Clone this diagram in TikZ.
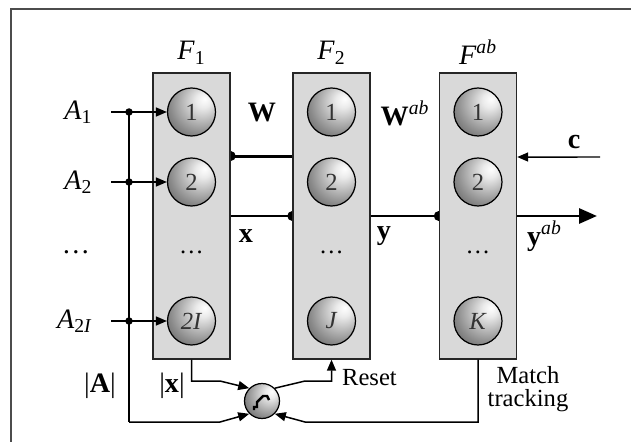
\documentclass[tikz,border=0pt]{standalone}
\usepackage{fontspec}
\setmainfont{Liberation Serif}
\usetikzlibrary{arrows.meta, positioning, calc}
\pgfdeclarelayer{background}
\pgfsetlayers{background,main}
\pgfdeclareradialshading{nodeball}{\pgfpoint{14bp}{14bp}}{%
  color(0bp)=(white); color(8bp)=(black!8); color(30bp)=(black!45); color(55bp)=(black!82); color(72bp)=(black!92)}
\tikzset{
  layer/.style={draw=black!85, fill=black!15, line width=0.8pt, minimum width=1.54cm, minimum height=5.72cm, inner sep=0pt},
  unit/.style={draw=black, circle, line width=0.7pt, minimum size=0.96cm, inner sep=0pt, shading=nodeball, font=\fontsize{14}{14}\selectfont, text=black!80},
  cmpunit/.style={unit, minimum size=0.7cm},
  lbl/.style={font=\fontsize{16}{18}\selectfont, inner sep=1pt},
  small/.style={font=\fontsize{14}{15}\selectfont, align=center, inner sep=1pt},
  wire/.style={draw=black, line width=0.85pt},
  bus/.style={draw=black, line width=1.7pt},
  tip/.style={-{Triangle[length=0.22cm, width=0.18cm]}},
  bigtip/.style={-{Triangle[length=0.36cm, width=0.3cm]}},
  jdot/.style={circle, fill=black, inner sep=0pt, minimum size=0.15cm},
  bdot/.style={circle, fill=black, inner sep=0pt, minimum size=0.2cm}
}

\begin{document}
\begin{tikzpicture}[x=0.02cm, y=-0.02cm]
\useasboundingbox (0,0) rectangle (631,442);

% frame
\draw[black!70, line width=0.6pt] (11,442) -- (11,9) -- (631,9);

% layers
\node[layer] (f1) at (191.5,216) {};
\node[layer] (f2) at (331.5,216) {};
\node[layer] (fab) at (478,216) {};

\node[lbl, above=0.12cm of f1] {\textit{F}\textsubscript{1}};
\node[lbl, above=0.12cm of f2] {\textit{F}\textsubscript{2}};
\node[lbl, above=0.12cm of fab] {\textit{F}\textsuperscript{\textit{ab}}};

% units
\node[unit] (f1a) at (191.5,112) {1};
\node[unit] (f1b) at (191.5,182) {2};
\node[small] (f1d) at (191.5,252) {\dots};
\node[unit] (f1n) at (191.5,321) {\textit{2I}};

\node[unit] (f2a) at (331.5,112) {1};
\node[unit] (f2b) at (331.5,182) {2};
\node[small] (f2d) at (331.5,252) {\dots};
\node[unit] (f2n) at (331.5,321) {\textit{J}};

\node[unit] (faba) at (478,112) {1};
\node[unit] (fabb) at (478,182) {2};
\node[small] (fabd) at (478,252) {\dots};
\node[unit] (fabn) at (478,321) {\textit{K}};

% inputs
\coordinate (in1) at (111,112);
\coordinate (in2) at (111,182);
\coordinate (in3) at (111,321);
\coordinate (bus1) at (129,112);
\coordinate (bus2) at (129,182);
\coordinate (bus3) at (129,321);
\coordinate (busend) at (129,422);

\node[lbl, left=0.33cm of in1] (a1) {\textit{A}\textsubscript{1}};
\node[lbl, left=0.33cm of in2] (a2) {\textit{A}\textsubscript{2}};
\node[lbl] (ad) at (76,252) {\dots};
\node[lbl, left=0.33cm of in3] (an) {\textit{A}\textsubscript{2\textit{I}}};

\draw[wire, tip] (in1) -- (f1a);
\draw[wire, tip] (in2) -- (f1b);
\draw[wire, tip] (in3) -- (f1n);
\node[jdot] at (bus1) {};
\node[jdot] at (bus2) {};
\node[jdot] at (bus3) {};

% weights
\begin{pgfonlayer}{background}
\node[bdot] (d1) at ([yshift=1.2cm]f1.east) {};
\node[bdot] (d2) at (f2.west) {};
\node[bdot] (d3) at (fab.west) {};
\end{pgfonlayer}
\draw[bus] (d1.center) -- ([yshift=1.2cm]f2.west);
\draw[bus] (f1.east) -- (d2.center);
\draw[bus] (f2.east) -- (d3.center);
\coordinate (out) at (597,216);
\draw[bus, bigtip] (fab.east) -- (out);
\coordinate (cin) at (600,157);
\draw[wire, tip] (cin) -- ([yshift=1.18cm]fab.east);

\node[lbl] (wl) at (262,113) {\textbf{W}};
\node[lbl] (wab) at (405,113) {\textbf{W}\textsuperscript{\textit{ab}}};
\node[lbl] (xl) at (246,236) {\textbf{x}};
\node[lbl] (yl) at (384,236) {\textbf{y}};
\node[lbl, anchor=west] (yab) at (525,236) {\textbf{y}\textsuperscript{\textit{ab}}};
\node[lbl] (cl) at (574,142) {\textbf{c}};

% reset module
\node[cmpunit] (cmp) at (262,401) {};
\draw[line width=1.4pt] ([shift={(-8,9)}]cmp.center) -- ([shift={(-8,6)}]cmp.center) -- ([shift={(-5,6)}]cmp.center) -- ([shift={(-5,1)}]cmp.center) -- ([shift={(-2,-2)}]cmp.center) -- ([shift={(1,-5)}]cmp.center) -- ([shift={(5,-5)}]cmp.center) -- ([shift={(7,-1)}]cmp.center);

\coordinate (k1) at (220,381);
\coordinate (k2) at (220,422);
\coordinate (k3) at (305,381);
\coordinate (k4) at (305,422);

\draw[wire] (bus1) -- (busend);
\draw[wire, tip] (busend) -- (k2) -- (cmp.south west);
\draw[wire, tip] (f1.south) |- (k1) -- (cmp.north west);
\draw[wire, tip] (cmp.north east) -- (k3) -| (f2.south);
\draw[wire, tip] (fab.south) |- (k4) -- (cmp.south east);

\node[lbl] (al) at (100,386) {|\textbf{A}|};
\node[lbl] (xn) at (172,386) {|\textbf{x}|};
\node[small, anchor=west] (rl) at (340,378) {Reset};
\node[small] (mt) at (528,389) {Match\\[-2pt]tracking};

\end{tikzpicture}
\end{document}
